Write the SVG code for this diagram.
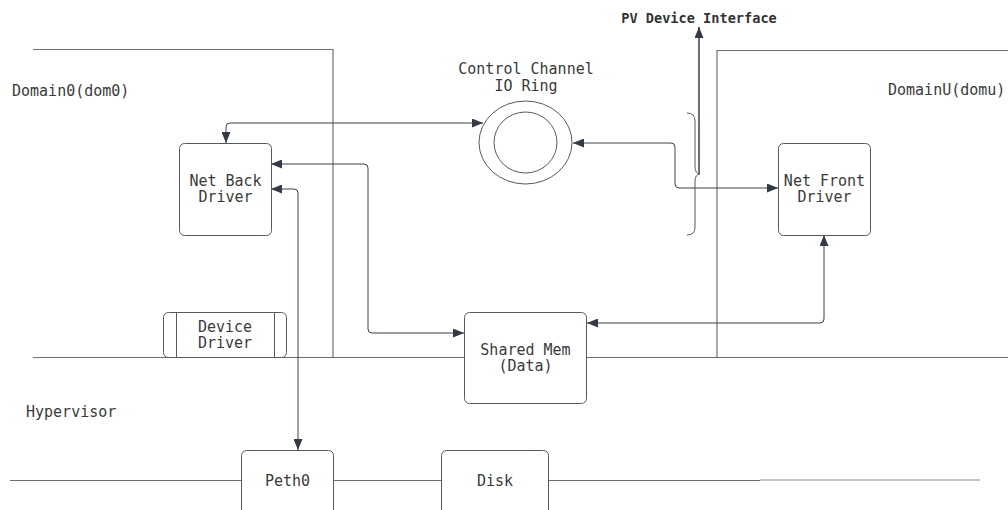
<svg xmlns="http://www.w3.org/2000/svg" width="1008" height="510" viewBox="0 0 1008 510">
<style>
.bd{fill:none;stroke:#6b6e73;stroke-width:1.2}
.bx{fill:#fff;stroke:#555a60;stroke-width:1}
.cn{fill:none;stroke:#3a4048;stroke-width:1}
.t{font-family:"DejaVu Sans Mono","Liberation Mono",monospace;font-size:15px;fill:#3a3a3a;text-anchor:middle}
.tl{text-anchor:start}
.b{font-weight:bold;font-size:13.6px;fill:#333}
</style>
<defs>
<marker id="ah" viewBox="0 0 11 9" refX="11" refY="4.5" markerWidth="11" markerHeight="9" markerUnits="userSpaceOnUse" orient="auto-start-reverse">
<path d="M0,0 L11,4.5 L0,9 z" fill="#333a44"/>
</marker>
</defs>
<g id="boundaries">
<path class="bd" d="M33,49.5 H333 V357"/>
<path class="bd" d="M33,357.5 H464 M587,357.5 H1008"/>
<path class="bd" d="M1008,50.5 H717 V357"/>
<path class="bd" d="M10,480.5 H241 M333,480.5 H441 M548,480.5 H760"/>
<path class="bd" d="M760,480 H980" style="stroke:#8a8d90"/>
</g>
<g id="labels">
<text class="t tl" x="12" y="96">Domain0(dom0)</text>
<text class="t tl" x="888" y="95">DomainU(domu)</text>
<text class="t tl" x="26" y="417">Hypervisor</text>
<text class="t b" x="699" y="23">PV Device Interface</text>
</g>
<g id="connectors">
<path class="cn" d="M226,143 V127 Q226,123 230,123 H483" marker-start="url(#ah)" marker-end="url(#ah)"/>
<path class="cn" d="M271,164 H364 Q368,164 368,168 V329 Q368,333 372,333 H464" marker-start="url(#ah)" marker-end="url(#ah)"/>
<path class="cn" d="M271,189 H294 Q298,189 298,193 V450" marker-start="url(#ah)" marker-end="url(#ah)"/>
<path class="cn" d="M573,143 H671 Q675,143 675,147 V184 Q675,188 679,188 H778" marker-start="url(#ah)" marker-end="url(#ah)"/>
<path class="cn" d="M587,323 H820 Q824,323 824,319 V235" marker-start="url(#ah)" marker-end="url(#ah)"/>
<path class="cn" d="M699,174 V27" style="stroke-width:1.5" marker-end="url(#ah)"/>
<path class="cn" d="M687,113 Q695,113 695,121 V166 Q695,174 700,174 Q695,174 695,182 V227 Q695,235 687,235" style="stroke:#555a60"/>
</g>
<g id="netback">
<rect class="bx" x="179.5" y="143.5" width="92" height="92" rx="5"/>
<text class="t" x="225.5" y="186">Net Back</text>
<text class="t" x="225.5" y="202">Driver</text>
</g>
<g id="ring">
<ellipse class="bx" cx="525.5" cy="142.5" rx="46.5" ry="41.5"/>
<ellipse class="bx" cx="525.5" cy="142.5" rx="31.5" ry="30.5"/>
<text class="t" x="526" y="74">Control Channel</text>
<text class="t" x="526" y="91">IO Ring</text>
</g>
<g id="netfront">
<rect class="bx" x="778.5" y="143.5" width="92" height="92" rx="5"/>
<text class="t" x="824.5" y="186">Net Front</text>
<text class="t" x="824.5" y="202">Driver</text>
</g>
<g id="devicedriver">
<rect class="bx" x="163.5" y="312.5" width="123" height="45" rx="5"/>
<path class="bx" d="M176.5,312.5 V357.5 M274.5,312.5 V357.5"/>
<text class="t" x="225" y="332">Device</text>
<text class="t" x="225" y="348">Driver</text>
</g>
<g id="sharedmem">
<rect class="bx" x="464.5" y="312.5" width="122" height="91" rx="5"/>
<text class="t" x="525.5" y="355">Shared Mem</text>
<text class="t" x="525.5" y="371">(Data)</text>
</g>
<g id="peth0">
<rect class="bx" x="241.5" y="450.5" width="92" height="70" rx="5"/>
<text class="t" x="287.5" y="486">Peth0</text>
</g>
<g id="disk">
<rect class="bx" x="441.5" y="450.5" width="107" height="70" rx="5"/>
<text class="t" x="495" y="486">Disk</text>
</g>
</svg>
